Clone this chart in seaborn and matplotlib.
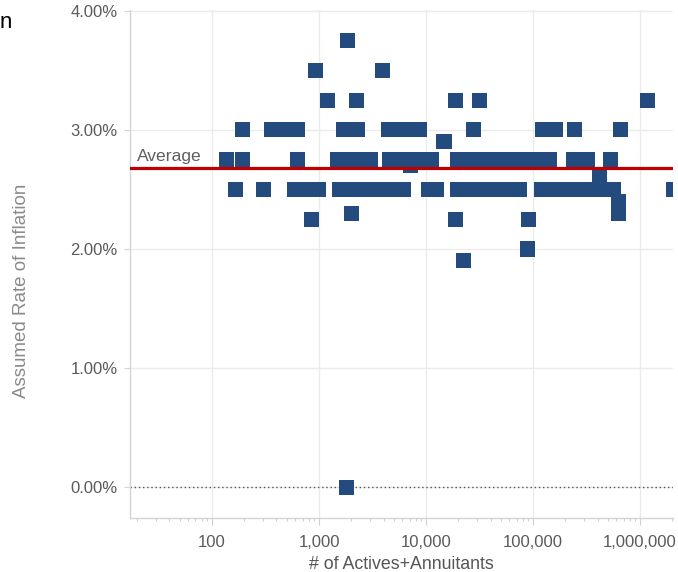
import matplotlib
matplotlib.use("Agg")
import matplotlib.pyplot as plt
import matplotlib.ticker as mticker
import matplotlib.transforms as mtransforms
import numpy as np
import pandas as pd
import seaborn as sns

# Plan size (# of actives + annuitants), grouped by assumed inflation rate (%)
members_375 = [1830]
members_350 = [920, 3900]
members_325 = [1200, 2250, 18800, 31800, 1170000]
members_300 = [192, 360, 470, 630, 1710, 2280, 4500, 5360, 6370, 7400, 8600,
               27800, 122700, 160700, 245900, 650000]
members_290 = [14700]
members_275 = [135, 192, 627, 1490, 1750, 2080, 2470, 3000, 4510, 5360, 6370,
               7560, 8980, 11130, 19700, 23650, 28100, 33400, 39600, 47100,
               56000, 66400, 78900, 93700, 111400, 141300, 239000, 323000,
               524000]
members_270 = [7080]
members_260 = [414000]
members_250 = [166, 302, 584, 713, 985, 1540, 1830, 2170, 2520, 3000, 3560,
               4230, 5130, 6160, 10440, 12400, 19700, 23100, 27500, 32650,
               39600, 47100, 56000, 65000, 73900, 121000, 144300, 171500,
               203400, 241700, 287100, 341000, 404900, 481000, 560000,
               2056000]
members_240 = [627000]
members_230 = [2030, 627000]
members_225 = [855, 18800, 89800]
members_200 = [87900]
members_190 = [22300]
members_000 = [1800]

rate_levels = [3.75, 3.50, 3.25, 3.00, 2.90, 2.75, 2.70, 2.60, 2.50, 2.40,
               2.30, 2.25, 2.00, 1.90, 0.00]
member_groups = [members_375, members_350, members_325, members_300,
                 members_290, members_275, members_270, members_260,
                 members_250, members_240, members_230, members_225,
                 members_200, members_190, members_000]

x_ticks = [100, 1000, 10000, 100000, 1000000]
y_ticks = [0, 1, 2, 3, 4]

df = pd.DataFrame({
    "members": [m for grp in member_groups for m in grp],
    "rate": [r for r, grp in zip(rate_levels, member_groups) for _ in grp],
})
average_rate = df["rate"].mean()

sns.set_theme(style="white")
plt.rcParams["font.family"] = ["Liberation Sans", "DejaVu Sans"]

W, H = 678, 572
fig = plt.figure(figsize=(W / 100, H / 100), dpi=100)
ax = fig.add_axes([130 / W, 1 - 518 / H, (673 - 130) / W, (518 - 10) / H])

ax.set_xscale("log")
ax.set_xlim(17.1, 2.03e6)
ax.set_ylim(-0.26, 4.008)

# grid
ax.set_xticks(x_ticks)
ax.set_yticks(y_ticks)
ax.xaxis.set_minor_locator(mticker.LogLocator(base=10, subs=np.arange(2, 10)))
ax.yaxis.set_minor_locator(mticker.NullLocator())
ax.grid(True, which="major", color="#ebebeb", lw=1.0, zorder=0)
ax.set_axisbelow(True)

sns.scatterplot(data=df, x="members", y="rate", marker="s", s=117,
                color="#234b7e", edgecolor="none", linewidth=0,
                legend=False, ax=ax, zorder=3)

# zero reference and average line
ax.axhline(0, color="#555555", lw=1.0, ls=(0, (1, 2)), zorder=2)
ax.axhline(average_rate, color="#c00000", lw=2.3, zorder=4)
trans = mtransforms.blended_transform_factory(ax.transAxes, ax.transData)
ax.annotate("Average", xy=(0, average_rate), xycoords=trans,
            xytext=(5, 5.5), textcoords="offset points",
            ha="left", va="baseline", fontsize=12.6, color="#5f5f5f",
            zorder=5)

ax.xaxis.set_major_formatter(mticker.FuncFormatter(lambda v, p: f"{v:,.0f}"))
ax.xaxis.set_minor_formatter(mticker.NullFormatter())
ax.yaxis.set_major_formatter(mticker.FuncFormatter(lambda v, p: f"{v:.2f}%"))

for side in ("top", "right"):
    ax.spines[side].set_visible(False)
for side in ("left", "bottom"):
    ax.spines[side].set_color("#d4d4d4")
    ax.spines[side].set_linewidth(1.0)

ax.tick_params(axis="y", which="major", direction="out", length=4,
               width=0.8, color="#d4d4d4", pad=5, labelsize=12,
               labelcolor="#5a5a5a", left=True)
ax.tick_params(axis="x", which="major", direction="out", length=5,
               width=0.8, color="#cfcfcf", pad=7, labelsize=12,
               labelcolor="#5a5a5a", bottom=True)
ax.tick_params(axis="x", which="minor", direction="out", length=2.5,
               width=0.8, color="#cfcfcf", bottom=True)

ax.set_xlabel("# of Actives+Annuitants", fontsize=12.8, color="#555555",
              labelpad=4.5)
ax.set_ylabel("")
fig.text(22 / W, 1 - 291 / H, "Assumed Rate of Inflation", rotation=90,
         ha="center", va="center", fontsize=13.5, color="#8a8a8a")

fig.text(0, 1 - 28 / H, "n", ha="left", va="baseline", fontsize=16,
         color="black")

fig.savefig("out.png", dpi=100, facecolor="white")
